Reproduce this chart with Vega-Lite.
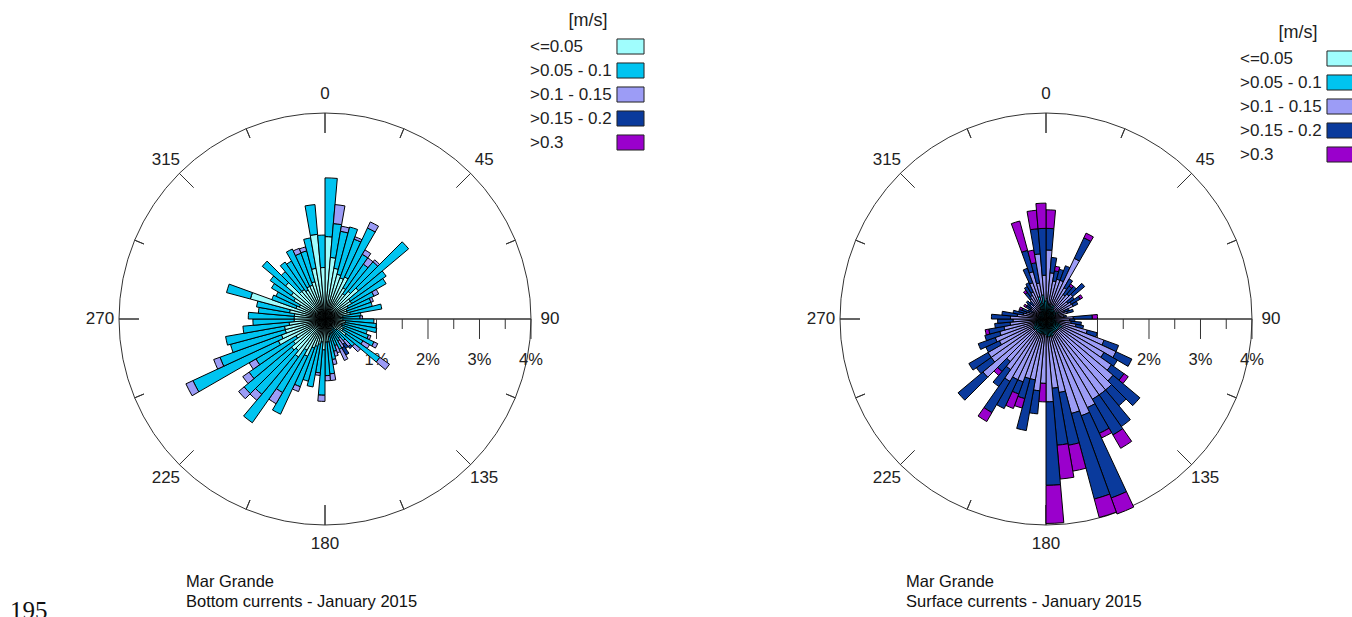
{
"$schema": "https://vega.github.io/schema/vega-lite/v6.json",
"padding": 0,
"spacing": 71,
"background": "white",
"config": {"view": {"stroke": null}, "font": "Liberation Sans"},
"title": {"text": "195", "orient": "bottom", "anchor": "start", "font": "Liberation Serif", "fontSize": 25, "fontWeight": "normal", "color": "#111", "dx": 10, "offset": -39, "baseline": "top"},
"resolve": {"scale": {"color": "independent", "theta": "independent", "radius": "independent", "x": "independent", "y": "independent"}, "legend": {"color": "independent"}},
"datasets": {
"bottom": [
{"d":0,"e":5,"s1":1.6,"s2":1.14},{"d":5,"e":10,"s1":1.2,"s2":0.66,"s3":0.37},{"d":10,"e":15,"s1":1.0,"s2":0.73,"s3":0.1},{"d":15,"e":20,"s1":0.9,"s2":0.95},
{"d":20,"e":25,"s1":0.85,"s2":0.8,"s3":0.05},{"d":25,"e":30,"s1":0.9,"s2":1.05,"s3":0.13},{"d":30,"e":35,"s1":0.7,"s2":0.75,"s3":0.1},{"d":35,"e":40,"s1":0.6,"s2":0.7,"s3":0.15},
{"d":40,"e":45,"s1":0.7,"s2":0.75,"s3":0.05},{"d":45,"e":50,"s1":0.85,"s2":1.27},{"d":50,"e":55,"s1":0.6,"s2":0.85},{"d":55,"e":60,"s1":0.6,"s2":0.77},
{"d":60,"e":65,"s1":0.5,"s2":0.55,"s3":0.1},{"d":65,"e":70,"s1":0.45,"s2":0.5,"s3":0.05},{"d":70,"e":75,"s1":0.45,"s2":0.5},{"d":75,"e":80,"s1":0.5,"s2":0.62},
{"d":80,"e":85,"s1":0.35,"s2":0.35},{"d":85,"e":90,"s1":0.3,"s2":0.38,"s3":0.05},{"d":90,"e":95,"s1":0.35,"s2":0.6},{"d":95,"e":100,"s1":0.4,"s2":0.6},
{"d":100,"e":105,"s1":0.4,"s2":0.62},{"d":105,"e":110,"s1":0.35,"s2":0.5},{"d":110,"e":115,"s1":0.35,"s2":0.55,"s3":0.05},{"d":115,"e":120,"s1":0.4,"s2":0.65,"s3":0.08},
{"d":120,"e":125,"s1":0.4,"s2":0.45,"s3":0.15},{"d":125,"e":130,"s1":0.5,"s2":0.8,"s3":0.23},{"d":130,"e":135,"s1":0.3,"s2":0.45,"s3":0.15},{"d":135,"e":140,"s1":0.25,"s2":0.3,"s3":0.15,"s4":0.05},
{"d":140,"e":145,"s1":0.2,"s2":0.25,"s3":0.15,"s4":0.1},{"d":145,"e":150,"s1":0.25,"s2":0.25,"s3":0.15,"s4":0.16},{"d":150,"e":155,"s1":0.3,"s2":0.35,"s3":0.24},{"d":155,"e":160,"s1":0.25,"s2":0.3,"s3":0.15},
{"d":160,"e":165,"s1":0.3,"s2":0.35,"s3":0.1},{"d":165,"e":170,"s1":0.35,"s2":0.45,"s3":0.1},{"d":170,"e":175,"s1":0.45,"s2":0.62,"s3":0.13},{"d":175,"e":180,"s1":0.45,"s2":0.65,"s3":0.1},
{"d":180,"e":185,"s1":0.6,"s2":0.88,"s3":0.12},{"d":185,"e":190,"s1":0.45,"s2":0.6,"s3":0.05},{"d":190,"e":195,"s1":0.5,"s2":0.84},{"d":195,"e":200,"s1":0.55,"s2":0.7},
{"d":200,"e":205,"s1":0.6,"s2":0.8,"s3":0.1},{"d":205,"e":210,"s1":0.8,"s2":1.24},{"d":210,"e":215,"s1":0.7,"s2":0.95,"s3":0.25},{"d":215,"e":220,"s1":0.9,"s2":1.56},
{"d":220,"e":225,"s1":0.8,"s2":1.11,"s3":0.15},{"d":225,"e":230,"s1":0.85,"s2":1.2,"s3":0.14},{"d":230,"e":235,"s1":0.75,"s2":1.05,"s3":0.15},{"d":235,"e":240,"s1":0.65,"s2":0.9,"s3":0.15},
{"d":240,"e":245,"s1":1.0,"s2":1.83,"s3":0.15},{"d":245,"e":250,"s1":0.9,"s2":1.27,"s3":0.13},{"d":250,"e":255,"s1":0.8,"s2":1.1},{"d":255,"e":260,"s1":0.8,"s2":1.16},
{"d":260,"e":265,"s1":0.7,"s2":0.9},{"d":265,"e":270,"s1":0.6,"s2":0.8},{"d":270,"e":275,"s1":0.6,"s2":0.89},{"d":275,"e":280,"s1":0.6,"s2":0.7},
{"d":280,"e":285,"s1":0.7,"s2":0.65},{"d":285,"e":290,"s1":1.5,"s2":0.48},{"d":290,"e":295,"s1":0.6,"s2":0.5},{"d":295,"e":300,"s1":0.55,"s2":0.5},
{"d":300,"e":305,"s1":0.7,"s2":0.5},{"d":305,"e":310,"s1":0.8,"s2":0.5},{"d":310,"e":315,"s1":1.0,"s2":0.59},{"d":315,"e":320,"s1":0.7,"s2":0.5},
{"d":320,"e":325,"s1":0.7,"s2":0.65},{"d":325,"e":330,"s1":0.65,"s2":0.65},{"d":330,"e":335,"s1":0.7,"s2":0.8},{"d":335,"e":340,"s1":0.7,"s2":0.66,"s3":0.1},
{"d":340,"e":345,"s1":0.75,"s2":0.62,"s3":0.08},{"d":345,"e":350,"s1":1.0,"s2":0.6},{"d":350,"e":355,"s1":1.65,"s2":0.58},{"d":355,"e":360,"s1":1.0,"s2":0.63}
],
"surface": [
{"d":0,"e":5,"s1":0.1,"s2":0.3,"s3":0.94,"s4":0.42,"s5":0.36},{"d":5,"e":10,"s1":0.1,"s2":0.2,"s3":0.6,"s4":0.3},{"d":10,"e":15,"s1":0.1,"s2":0.2,"s3":0.45,"s4":0.2,"s5":0.09},{"d":15,"e":20,"s1":0.1,"s2":0.2,"s3":0.5,"s4":0.2},
{"d":20,"e":25,"s1":0.1,"s2":0.15,"s3":0.55,"s4":0.3},{"d":25,"e":30,"s1":0.1,"s2":0.2,"s3":1.0,"s4":0.44,"s5":0.1},{"d":30,"e":35,"s1":0.1,"s2":0.2,"s3":0.4,"s4":0.2},{"d":35,"e":40,"s1":0.08,"s2":0.15,"s3":0.35,"s4":0.2,"s5":0.05},
{"d":40,"e":45,"s1":0.08,"s2":0.15,"s3":0.4,"s4":0.2},{"d":45,"e":50,"s1":0.08,"s2":0.15,"s3":0.45,"s4":0.3},{"d":50,"e":55,"s1":0.07,"s2":0.15,"s3":0.3,"s4":0.15},{"d":55,"e":60,"s1":0.07,"s2":0.15,"s3":0.35,"s4":0.2,"s5":0.05},
{"d":60,"e":65,"s1":0.08,"s2":0.2,"s3":0.3,"s4":0.1},{"d":65,"e":70,"s1":0.06,"s2":0.12,"s3":0.2,"s4":0.1},{"d":70,"e":75,"s1":0.06,"s2":0.12,"s3":0.25,"s4":0.12},{"d":75,"e":80,"s1":0.05,"s2":0.1,"s3":0.2},
{"d":80,"e":85,"s1":0.05,"s2":0.1,"s3":0.2,"s4":0.05},{"d":85,"e":90,"s1":0.06,"s2":0.12,"s3":0.35,"s4":0.37,"s5":0.1},{"d":90,"e":95,"s1":0.06,"s2":0.1,"s3":0.3,"s4":0.1},{"d":95,"e":100,"s1":0.07,"s2":0.12,"s3":0.3,"s4":0.2},
{"d":100,"e":105,"s1":0.07,"s2":0.12,"s3":0.4,"s4":0.15},{"d":105,"e":110,"s1":0.08,"s2":0.15,"s3":0.6,"s4":0.2},{"d":110,"e":115,"s1":0.1,"s2":0.2,"s3":0.9,"s4":0.3},{"d":115,"e":120,"s1":0.1,"s2":0.25,"s3":1.15,"s4":0.34},
{"d":120,"e":125,"s1":0.1,"s2":0.2,"s3":1.0,"s4":0.3},{"d":125,"e":130,"s1":0.1,"s2":0.2,"s3":1.25,"s4":0.3,"s5":0.1},{"d":130,"e":135,"s1":0.1,"s2":0.2,"s3":1.4,"s4":0.68},{"d":135,"e":140,"s1":0.1,"s2":0.2,"s3":1.5,"s4":0.4},
{"d":140,"e":145,"s1":0.1,"s2":0.2,"s3":1.5,"s4":0.75},{"d":145,"e":150,"s1":0.1,"s2":0.2,"s3":1.5,"s4":0.8,"s5":0.3},{"d":150,"e":155,"s1":0.1,"s2":0.2,"s3":1.6,"s4":0.55,"s5":0.1},{"d":155,"e":160,"s1":0.1,"s2":0.25,"s3":1.65,"s4":1.7,"s5":0.33},
{"d":160,"e":165,"s1":0.1,"s2":0.25,"s3":1.55,"s4":1.72,"s5":0.37},{"d":165,"e":170,"s1":0.1,"s2":0.25,"s3":1.1,"s4":1.04,"s5":0.51},{"d":170,"e":175,"s1":0.1,"s2":0.25,"s3":1.0,"s4":1.11,"s5":0.66},{"d":175,"e":180,"s1":0.1,"s2":0.25,"s3":1.26,"s4":1.62,"s5":0.74},
{"d":180,"e":185,"s1":0.1,"s2":0.2,"s3":0.95,"s5":0.36},{"d":185,"e":190,"s1":0.1,"s2":0.2,"s3":1.1,"s4":0.45},{"d":190,"e":195,"s1":0.1,"s2":0.2,"s3":0.9,"s4":1.0},{"d":195,"e":200,"s1":0.1,"s2":0.2,"s3":0.9,"s4":0.4,"s5":0.19},
{"d":200,"e":205,"s1":0.1,"s2":0.2,"s3":1.0,"s4":0.25,"s5":0.3},{"d":205,"e":210,"s1":0.1,"s2":0.2,"s3":1.0,"s4":0.62},{"d":210,"e":215,"s1":0.1,"s2":0.2,"s3":1.1,"s4":0.7,"s5":0.2},{"d":215,"e":220,"s1":0.1,"s2":0.2,"s3":0.9,"s4":0.4},
{"d":220,"e":225,"s1":0.08,"s2":0.2,"s3":0.8,"s4":0.25,"s5":0.1},{"d":225,"e":230,"s1":0.1,"s2":0.2,"s3":1.3,"s4":0.63},{"d":230,"e":235,"s1":0.1,"s2":0.2,"s3":1.0,"s4":0.35},{"d":235,"e":240,"s1":0.1,"s2":0.2,"s3":1.0,"s4":0.43},
{"d":240,"e":245,"s1":0.1,"s2":0.15,"s3":0.75,"s4":0.29},{"d":245,"e":250,"s1":0.1,"s2":0.15,"s3":0.8,"s4":0.35},{"d":250,"e":255,"s1":0.08,"s2":0.15,"s3":0.7,"s4":0.3},{"d":255,"e":260,"s1":0.08,"s2":0.15,"s3":0.6,"s4":0.3,"s5":0.07},
{"d":260,"e":265,"s1":0.08,"s2":0.12,"s3":0.5,"s4":0.3},{"d":265,"e":270,"s1":0.07,"s2":0.12,"s3":0.45,"s4":0.3},{"d":270,"e":275,"s1":0.07,"s2":0.12,"s3":0.5,"s4":0.37},{"d":275,"e":280,"s1":0.06,"s2":0.1,"s3":0.4,"s4":0.3},
{"d":280,"e":285,"s1":0.05,"s2":0.1,"s3":0.3,"s4":0.2},{"d":285,"e":290,"s1":0.05,"s2":0.1,"s3":0.25,"s4":0.15},{"d":290,"e":295,"s1":0.05,"s2":0.1,"s3":0.2,"s4":0.15,"s5":0.05},{"d":295,"e":300,"s1":0.05,"s2":0.08,"s3":0.15,"s4":0.1},
{"d":300,"e":305,"s1":0.05,"s2":0.1,"s3":0.2,"s4":0.1,"s5":0.05},{"d":305,"e":310,"s1":0.05,"s2":0.1,"s3":0.2,"s4":0.1},{"d":310,"e":315,"s1":0.05,"s2":0.1,"s3":0.25,"s4":0.1},{"d":315,"e":320,"s1":0.05,"s2":0.1,"s3":0.2,"s4":0.1},
{"d":320,"e":325,"s1":0.06,"s2":0.12,"s3":0.3,"s4":0.15,"s5":0.05},{"d":325,"e":330,"s1":0.06,"s2":0.12,"s3":0.35,"s4":0.2},{"d":330,"e":335,"s1":0.08,"s2":0.15,"s3":0.35,"s4":0.2},{"d":335,"e":340,"s1":0.1,"s2":0.2,"s3":0.45,"s4":0.3},
{"d":340,"e":345,"s1":0.15,"s2":0.3,"s3":0.5,"s4":0.43,"s5":0.59},{"d":345,"e":350,"s1":0.11,"s2":0.2,"s3":0.4,"s4":0.4,"s5":0.25},{"d":350,"e":355,"s1":0.17,"s2":0.3,"s3":0.8,"s4":0.49,"s5":0.36},{"d":355,"e":360,"s1":0.1,"s2":0.25,"s3":0.5,"s4":0.91,"s5":0.49}
],
"majorTicks": [{"a":0},{"a":45},{"a":135},{"a":180},{"a":225},{"a":270},{"a":315}],
"minorTicks": [{"a":22.5},{"a":67.5},{"a":112.5},{"a":157.5},{"a":202.5},{"a":247.5},{"a":292.5},{"a":337.5}],
"dirLabels": [{"a":0},{"a":45},{"a":90},{"a":135},{"a":180},{"a":225},{"a":270},{"a":315}],
"pctMajor": [{"p":1},{"p":2},{"p":3},{"p":4}],
"pctMinor": [{"p":0.5},{"p":1.5},{"p":2.5},{"p":3.5}],
"pctLabels": [{"p":1,"t":"1%"},{"p":2,"t":"2%"},{"p":3,"t":"3%"},{"p":4,"t":"4%"}],
"one": [{"o":1}]
},
"hconcat": [
{
"width": 650, "height": 638,
"title": {"text": ["Mar Grande", "Bottom currents - January 2015"], "orient": "bottom", "anchor": "start", "frame": "group", "dx": 186, "offset": -64, "baseline": "top", "fontSize": 16.5, "fontWeight": "normal", "lineHeight": 20, "color": "#111"},
"layer": [
{"data": {"name": "one"}, "mark": {"type": "arc", "fillOpacity": 0, "stroke": "#333", "strokeWidth": 1},
 "encoding": {"theta": {"datum": 0, "type": "quantitative", "stack": null, "scale": {"type": "linear", "domain": [0, 360], "range": [0, 6.283185307179586]}}, "theta2": {"datum": 360},
  "radius": {"datum": 4, "type": "quantitative", "stack": null, "scale": {"type": "linear", "domain": [0, 4], "range": [0, 206], "zero": true, "nice": false}}}},
{"data": {"name": "majorTicks"}, "mark": {"type": "arc", "fillOpacity": 0, "stroke": "#333", "strokeWidth": 1},
 "encoding": {"theta": {"field": "a", "type": "quantitative", "stack": null}, "theta2": {"field": "a"}, "radius": {"datum": 4, "type": "quantitative", "stack": null}, "radius2": {"datum": 3.612}}},
{"data": {"name": "minorTicks"}, "mark": {"type": "arc", "fillOpacity": 0, "stroke": "#333", "strokeWidth": 1},
 "encoding": {"theta": {"field": "a", "type": "quantitative", "stack": null}, "theta2": {"field": "a"}, "radius": {"datum": 4, "type": "quantitative", "stack": null}, "radius2": {"datum": 3.806}}},
{"data": {"name": "one"}, "mark": {"type": "arc", "fillOpacity": 0, "stroke": "#333", "strokeWidth": 1},
 "encoding": {"theta": {"datum": 90, "type": "quantitative", "stack": null}, "theta2": {"datum": 90}, "radius": {"datum": 4, "type": "quantitative", "stack": null}, "radius2": {"datum": 0}}},
{"data": {"name": "pctMajor"}, "mark": {"type": "rule", "stroke": "#333", "strokeWidth": 1},
 "encoding": {"x": {"field": "p", "type": "quantitative", "axis": null, "scale": {"domain": [-6.3107, 6.3107], "nice": false, "zero": false}}, "y": {"datum": 0, "type": "quantitative", "axis": null, "scale": {"domain": [-6.1942, 6.1942], "nice": false, "zero": false}}, "y2": {"datum": -0.388}}},
{"data": {"name": "pctMinor"}, "mark": {"type": "rule", "stroke": "#333", "strokeWidth": 1},
 "encoding": {"x": {"field": "p", "type": "quantitative", "axis": null}, "y": {"datum": 0, "type": "quantitative", "axis": null}, "y2": {"datum": -0.194}}},
{"data": {"name": "pctLabels"}, "mark": {"type": "text", "fontSize": 16.5, "color": "#222", "baseline": "middle", "align": "center"},
 "encoding": {"x": {"field": "p", "type": "quantitative", "axis": null}, "y": {"datum": -0.8, "type": "quantitative", "axis": null}, "text": {"field": "t"}}},
{"data": {"name": "bottom"},
 "transform": [
  {"fold": ["s1", "s2", "s3", "s4", "s5"], "as": ["key", "pct"]},
  {"filter": "datum.pct > 0"},
  {"stack": "pct", "groupby": ["d"], "sort": [{"field": "key", "order": "ascending"}], "as": ["r0", "r1"]}
 ],
 "mark": {"type": "arc", "stroke": "#000", "strokeWidth": 1},
 "encoding": {
  "theta": {"field": "d", "type": "quantitative", "stack": null}, "theta2": {"field": "e"},
  "radius": {"field": "r1", "type": "quantitative", "stack": null}, "radius2": {"field": "r0"},
  "color": {"field": "key", "type": "nominal",
   "scale": {"domain": ["s1", "s2", "s3", "s4", "s5"], "range": ["#A0FDFD", "#00C4F0", "#9C9CF6", "#0A3A9C", "#9A00CC"]},
   "legend": {"title": "[m/s]", "orient": "none", "legendX": 530, "legendY": 12, "direction": "vertical", "padding": 0,
    "symbolType": "M-1.69,-0.94H1.69V0.94H-1.69Z", "symbolSize": 256, "symbolOffset": 92, "labelOffset": -109, "rowPadding": 3,
    "titleAnchor": "middle", "titlePadding": 8, "titleFontSize": 18, "titleFontWeight": "normal", "titleColor": "#222", "titleFont": "Liberation Sans",
    "labelFontSize": 17, "labelColor": "#222", "labelFont": "Liberation Sans", "labelLimit": 0,
    "symbolStrokeColor": "#222", "symbolStrokeWidth": 1, "symbolOpacity": 1,
    "labelExpr": "datum.label == 's1' ? '<=0.05' : datum.label == 's2' ? '>0.05 - 0.1' : datum.label == 's3' ? '>0.1 - 0.15' : datum.label == 's4' ? '>0.15 - 0.2' : '>0.3'"}}
 }},
{"data": {"name": "dirLabels"}, "mark": {"type": "text", "fontSize": 17, "color": "#222", "align": "center", "baseline": "middle"},
 "encoding": {"theta": {"field": "a", "type": "quantitative", "stack": null}, "radius": {"datum": 4.37, "type": "quantitative", "stack": null}, "text": {"field": "a", "type": "quantitative", "format": "d"}}}
]
},
{
"width": 650, "height": 638,
"title": {"text": ["Mar Grande", "Surface currents - January 2015"], "orient": "bottom", "anchor": "start", "frame": "group", "dx": 185, "offset": -64, "baseline": "top", "fontSize": 16.5, "fontWeight": "normal", "lineHeight": 20, "color": "#111"},
"layer": [
{"data": {"name": "one"}, "mark": {"type": "arc", "fillOpacity": 0, "stroke": "#333", "strokeWidth": 1},
 "encoding": {"theta": {"datum": 0, "type": "quantitative", "stack": null, "scale": {"type": "linear", "domain": [0, 360], "range": [0, 6.283185307179586]}}, "theta2": {"datum": 360},
  "radius": {"datum": 4, "type": "quantitative", "stack": null, "scale": {"type": "linear", "domain": [0, 4], "range": [0, 206], "zero": true, "nice": false}}}},
{"data": {"name": "majorTicks"}, "mark": {"type": "arc", "fillOpacity": 0, "stroke": "#333", "strokeWidth": 1},
 "encoding": {"theta": {"field": "a", "type": "quantitative", "stack": null}, "theta2": {"field": "a"}, "radius": {"datum": 4, "type": "quantitative", "stack": null}, "radius2": {"datum": 3.612}}},
{"data": {"name": "minorTicks"}, "mark": {"type": "arc", "fillOpacity": 0, "stroke": "#333", "strokeWidth": 1},
 "encoding": {"theta": {"field": "a", "type": "quantitative", "stack": null}, "theta2": {"field": "a"}, "radius": {"datum": 4, "type": "quantitative", "stack": null}, "radius2": {"datum": 3.806}}},
{"data": {"name": "one"}, "mark": {"type": "arc", "fillOpacity": 0, "stroke": "#333", "strokeWidth": 1},
 "encoding": {"theta": {"datum": 90, "type": "quantitative", "stack": null}, "theta2": {"datum": 90}, "radius": {"datum": 4, "type": "quantitative", "stack": null}, "radius2": {"datum": 0}}},
{"data": {"name": "pctMajor"}, "mark": {"type": "rule", "stroke": "#333", "strokeWidth": 1},
 "encoding": {"x": {"field": "p", "type": "quantitative", "axis": null, "scale": {"domain": [-6.3107, 6.3107], "nice": false, "zero": false}}, "y": {"datum": 0, "type": "quantitative", "axis": null, "scale": {"domain": [-6.1942, 6.1942], "nice": false, "zero": false}}, "y2": {"datum": -0.388}}},
{"data": {"name": "pctMinor"}, "mark": {"type": "rule", "stroke": "#333", "strokeWidth": 1},
 "encoding": {"x": {"field": "p", "type": "quantitative", "axis": null}, "y": {"datum": 0, "type": "quantitative", "axis": null}, "y2": {"datum": -0.194}}},
{"data": {"name": "pctLabels"}, "mark": {"type": "text", "fontSize": 16.5, "color": "#222", "baseline": "middle", "align": "center"},
 "encoding": {"x": {"field": "p", "type": "quantitative", "axis": null}, "y": {"datum": -0.8, "type": "quantitative", "axis": null}, "text": {"field": "t"}}},
{"data": {"name": "surface"},
 "transform": [
  {"fold": ["s1", "s2", "s3", "s4", "s5"], "as": ["key", "pct"]},
  {"filter": "datum.pct > 0"},
  {"stack": "pct", "groupby": ["d"], "sort": [{"field": "key", "order": "ascending"}], "as": ["r0", "r1"]}
 ],
 "mark": {"type": "arc", "stroke": "#000", "strokeWidth": 1},
 "encoding": {
  "theta": {"field": "d", "type": "quantitative", "stack": null}, "theta2": {"field": "e"},
  "radius": {"field": "r1", "type": "quantitative", "stack": null}, "radius2": {"field": "r0"},
  "color": {"field": "key", "type": "nominal",
   "scale": {"domain": ["s1", "s2", "s3", "s4", "s5"], "range": ["#A0FDFD", "#00C4F0", "#9C9CF6", "#0A3A9C", "#9A00CC"]},
   "legend": {"title": "[m/s]", "orient": "none", "legendX": 519, "legendY": 24, "direction": "vertical", "padding": 0,
    "symbolType": "M-1.69,-0.94H1.69V0.94H-1.69Z", "symbolSize": 256, "symbolOffset": 92, "labelOffset": -109, "rowPadding": 3,
    "titleAnchor": "middle", "titlePadding": 8, "titleFontSize": 18, "titleFontWeight": "normal", "titleColor": "#222", "titleFont": "Liberation Sans",
    "labelFontSize": 17, "labelColor": "#222", "labelFont": "Liberation Sans", "labelLimit": 0,
    "symbolStrokeColor": "#222", "symbolStrokeWidth": 1, "symbolOpacity": 1,
    "labelExpr": "datum.label == 's1' ? '<=0.05' : datum.label == 's2' ? '>0.05 - 0.1' : datum.label == 's3' ? '>0.1 - 0.15' : datum.label == 's4' ? '>0.15 - 0.2' : '>0.3'"}}
 }},
{"data": {"name": "dirLabels"}, "mark": {"type": "text", "fontSize": 17, "color": "#222", "align": "center", "baseline": "middle"},
 "encoding": {"theta": {"field": "a", "type": "quantitative", "stack": null}, "radius": {"datum": 4.37, "type": "quantitative", "stack": null}, "text": {"field": "a", "type": "quantitative", "format": "d"}}}
]
}
]
}
